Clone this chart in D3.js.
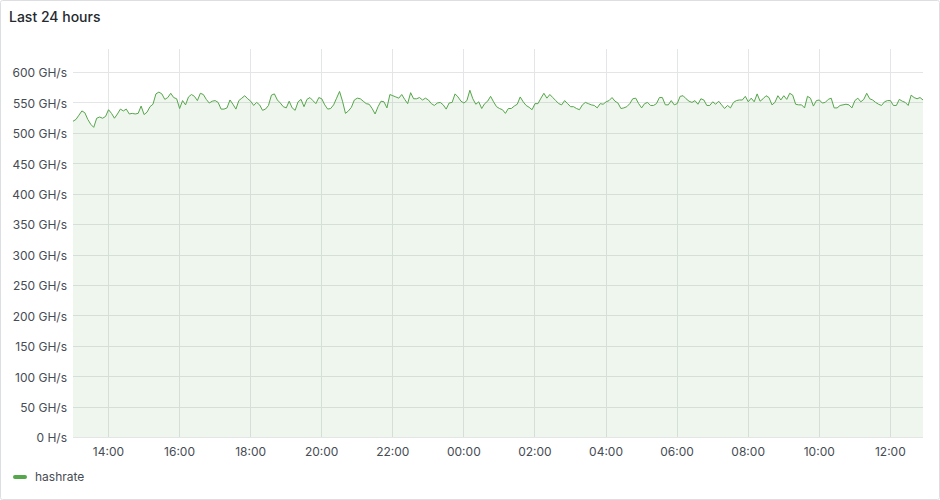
<!DOCTYPE html>
<html>
<head>
<meta charset="utf-8">
<script src="https://cdn.jsdelivr.net/npm/d3@7"></script>
<style>
  html, body { margin: 0; padding: 0; background: #fff; }
  svg { display: block; font-family: Inter, "Noto Sans", sans-serif; }
</style>
</head>
<body>
<svg id="chart" width="940" height="500"></svg>
<script>
// ---- data ----
const title = "Last 24 hours";
const seriesName = "hashrate";
const startTime = "2024-01-01T13:01:00";
const stepMinutes = 5;
// hashrate in GH/s, one sample every 5 minutes
const hashrate = [
  519,522,529,536,533,522,514,509,524,526,524,527,538,532,524,531,539,536,539,531,532,531,532,544,530,534,543,547,564,567,564,555,558,565,558,556,540,553,546,559,563,560,553,565,563,555,549,552,
  553,550,539,539,541,554,547,539,553,557,561,556,552,545,550,546,537,539,545,562,564,554,549,543,541,552,541,537,551,555,543,555,558,553,548,558,556,546,539,540,546,557,568,552,532,536,542,554,
  557,556,552,548,547,540,531,543,552,551,541,563,561,559,557,563,555,548,566,556,556,558,554,557,554,548,545,549,550,546,539,549,550,564,559,552,549,553,570,556,547,551,540,548,552,560,551,543,
  540,538,532,540,540,544,547,559,551,545,542,538,548,548,557,565,557,563,558,553,548,546,553,548,543,543,540,538,546,550,548,546,545,541,548,547,551,553,558,552,549,540,541,543,548,556,557,548,
  541,548,550,545,545,548,558,558,546,546,553,546,548,560,561,556,552,550,553,547,556,554,545,545,551,547,552,546,540,545,541,550,553,554,554,560,551,557,551,564,552,556,561,558,546,550,561,554,
  561,555,565,562,547,546,546,541,560,557,544,553,554,549,550,555,557,541,541,545,546,547,546,541,553,557,551,555,565,556,554,550,547,545,551,553,553,545,545,555,552,550,545,562,558,556,558,554
];
const yTicks = [0, 50, 100, 150, 200, 250, 300, 350, 400, 450, 500, 550, 600];
const xTickHours = ["14:00","16:00","18:00","20:00","22:00","00:00","02:00","04:00","06:00","08:00","10:00","12:00"];

// ---- build ----
const t0 = new Date(startTime);
const data = hashrate.map((v, i) => ({ t: new Date(t0.getTime() + i * stepMinutes * 60000), v }));

const svg = d3.select("#chart");
const W = 940, H = 500;
const plot = { left: 73, right: 923, top: 49, bottom: 437 };

// panel border
svg.append("rect")
  .attr("x", 0.5).attr("y", 0.5).attr("width", W - 1).attr("height", H - 1)
  .attr("rx", 2).attr("fill", "#fff").attr("stroke", "#dcdee1");

svg.append("text")
  .attr("x", 9).attr("y", 22)
  .attr("font-size", 14).attr("font-weight", 500).attr("fill", "#24292e")
  .text(title);

const x = d3.scaleTime()
  .domain(d3.extent(data, d => d.t))
  .range([plot.left, plot.right]);
const y = d3.scaleLinear()
  .domain([0, 600])
  .range([plot.bottom, 72]);

// x tick dates
const xTickDates = xTickHours.map((h, i) => {
  const base = new Date(t0);
  base.setHours(14, 0, 0, 0);
  return new Date(base.getTime() + i * 2 * 3600000);
});

const grid = svg.append("g").attr("stroke", "#e4e5e7").attr("stroke-width", 1);
grid.selectAll("line.h").data(yTicks).join("line")
  .attr("x1", plot.left).attr("x2", plot.right)
  .attr("y1", d => Math.round(y(d)) + 0.5).attr("y2", d => Math.round(y(d)) + 0.5);
grid.selectAll("line.v").data(xTickDates).join("line")
  .attr("y1", plot.top).attr("y2", plot.bottom)
  .attr("x1", d => Math.round(x(d)) + 0.5).attr("x2", d => Math.round(x(d)) + 0.5);

// area + line
const area = d3.area().x(d => x(d.t)).y0(y(0)).y1(d => y(d.v));
const line = d3.line().x(d => x(d.t)).y(d => y(d.v));
svg.append("path").datum(data).attr("d", area).attr("fill", "#56a64b").attr("fill-opacity", 0.1);
svg.append("path").datum(data).attr("d", line).attr("fill", "none")
  .attr("stroke", "#56a64b").attr("stroke-width", 1);

// y axis labels
const yAxis = d3.axisLeft(y).tickValues(yTicks).tickSize(0).tickPadding(6)
  .tickFormat(d => d === 0 ? "0 H/s" : d + " GH/s");
const gy = svg.append("g").attr("transform", `translate(${plot.left},1)`).call(yAxis);
gy.select(".domain").remove();
gy.selectAll("text").attr("font-family", "Inter, 'Noto Sans', sans-serif").attr("font-size", 12).attr("fill", "#464c54");

// x axis labels
const xAxis = d3.axisBottom(x).tickValues(xTickDates).tickSize(0).tickPadding(10)
  .tickFormat((d, i) => xTickHours[i]);
const gx = svg.append("g").attr("transform", `translate(0,${plot.bottom})`).call(xAxis);
gx.select(".domain").remove();
gx.selectAll("text").attr("font-family", "Inter, 'Noto Sans', sans-serif").attr("font-size", 12).attr("fill", "#464c54");

// legend
svg.append("line").attr("x1", 15).attr("x2", 25).attr("y1", 477).attr("y2", 477)
  .attr("stroke", "#56a64b").attr("stroke-width", 4).attr("stroke-linecap", "round");
svg.append("text").attr("x", 35).attr("y", 477).attr("dy", "0.35em")
  .attr("font-size", 12).attr("fill", "#464c54").text(seriesName);
</script>
</body>
</html>
